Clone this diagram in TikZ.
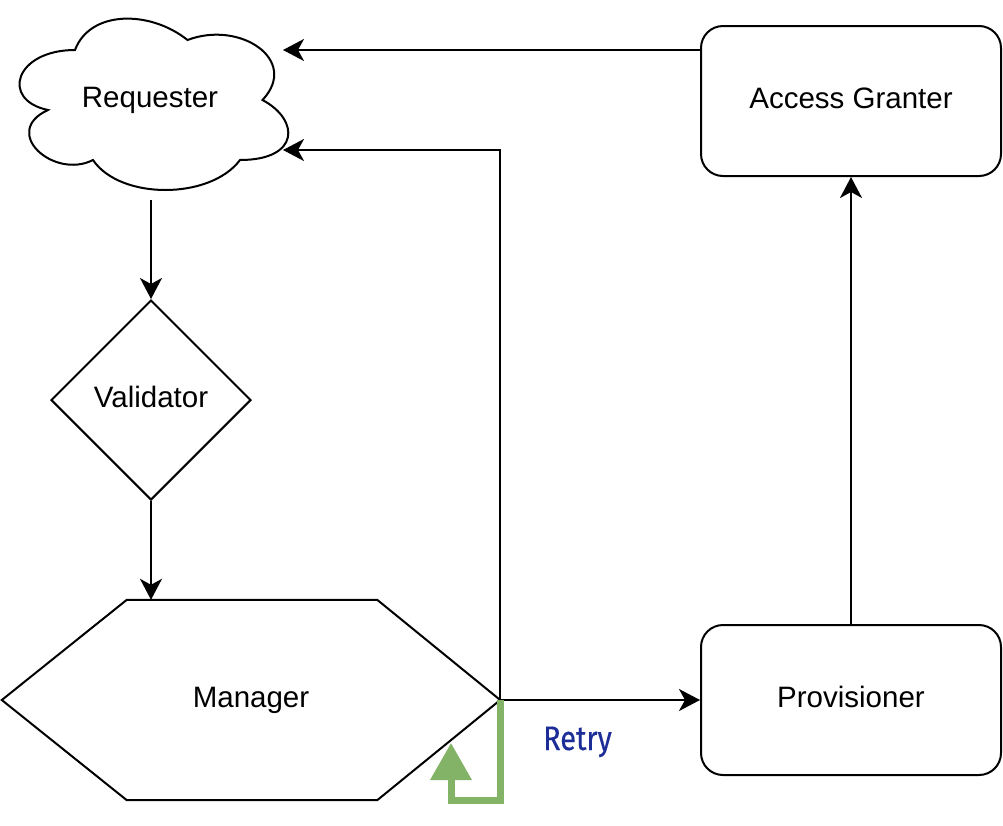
\documentclass[tikz,border=0pt]{standalone}
\usepackage{fontspec}
\setmainfont{Liberation Sans}
\newfontfamily\retryfont[FakeBold=0.4]{Fira Sans}
\usetikzlibrary{arrows.meta,shapes.geometric}
\definecolor{retryblue}{RGB}{28,45,152}
\definecolor{retrygreen}{RGB}{130,179,102}
\begin{document}
\begin{tikzpicture}[x=1pt,y=-1pt,
  lbl/.style={font=\fontsize{29.5}{35}\selectfont, text height=21pt, text depth=6pt, inner sep=0pt},
  shapeline/.style={line width=2pt, line join=miter},
  boxshape/.style={lbl, draw, shapeline, rounded corners=22pt, minimum width=300pt, minimum height=150pt},
  conn/.style={line width=2pt, -{Stealth[length=21pt,width=22pt,inset=6pt]}},
  retryline/.style={line width=7pt, draw=retrygreen, -{Triangle[length=37pt,width=40pt]}}
]
\useasboundingbox (0,0) rectangle (1003,825);

% Requester (cloud)
\node[lbl, minimum width=300pt, minimum height=200pt] (req) at (150,100) {Requester};
\draw[shapeline] (75,50) .. controls (15,50) and (0,100) .. (48,110)
  .. controls (0,132) and (54,180) .. (93,160)
  .. controls (120,200) and (210,200) .. (240,160)
  .. controls (300,160) and (300,120) .. (262.5,100)
  .. controls (300,60) and (240,20) .. (187.5,40)
  .. controls (150,10) and (90,10) .. (75,50) -- cycle;

% Validator
\node[lbl, draw, shapeline, diamond, aspect=1, minimum width=200pt, minimum height=200pt] (val) at (151,400) {Validator};

% Manager (hexagon)
\node[lbl, minimum width=498pt, minimum height=200pt] (man) at (251,700) {Manager};
\draw[shapeline] (man.west) -- ([xshift=125pt]man.north west) -- ([xshift=-123pt]man.north east)
  -- (man.east) -- ([xshift=-123pt]man.south east) -- ([xshift=125pt]man.south west) -- cycle;

% Access Granter and Provisioner
\node[boxshape] (acc) at (851,101) {Access Granter};
\node[boxshape] (prov) at (851,700) {Provisioner};

% helper coordinates at the cloud
\coordinate (cloudtop) at (283,50);
\coordinate (cloudlow) at (283,150);
\coordinate (retrytip) at (451,743);

% connectors
\draw[conn] (val.north |- req.south) -- (val.north);
\draw[conn] (val.south) -- (val.south |- man.north);
\draw[conn] (man.east) -- (man.east -| prov.west);
\draw[conn] (man.east) -- (man.east |- cloudlow) -- (cloudlow);
\draw[conn] (acc.west |- cloudtop) -- (cloudtop);
\draw[conn] (prov.north) -- (acc.south);

% retry loop
\draw[retryline] (man.east) -- ++(0,100) -| (retrytip);
\node[font=\retryfont\fontsize{34}{40}\selectfont, text=retryblue, anchor=base, inner sep=0pt] (retry) at (577.5,750) {\scalebox{0.85}[1]{Retry}};
\end{tikzpicture}
\end{document}
